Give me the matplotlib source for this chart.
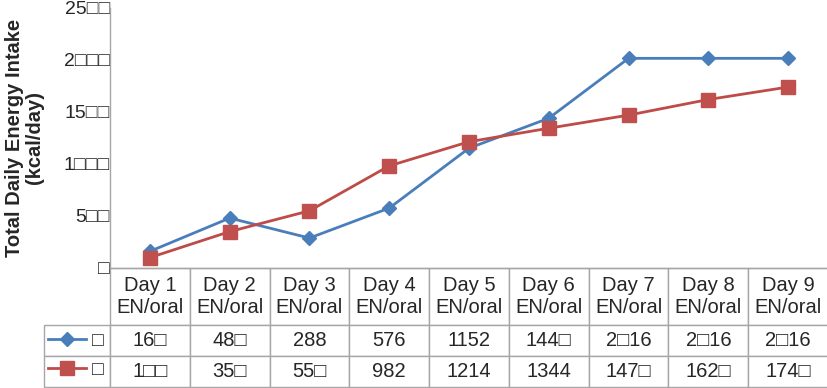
import matplotlib
matplotlib.use("Agg")
import matplotlib.pyplot as plt

plt.rcParams["font.family"] = ["Liberation Sans", "DejaVu Sans"]

# data (zeros render as tofu boxes in the source)
days = ["Day 1", "Day 2", "Day 3", "Day 4", "Day 5", "Day 6", "Day 7", "Day 8", "Day 9"]
series_blue = [160, 480, 288, 576, 1152, 1440, 2016, 2016, 2016]
series_red = [100, 350, 550, 982, 1214, 1344, 1470, 1620, 1740]
y_ticks = [0, 500, 1000, 1500, 2000, 2500]
series_names = ["\u25a1", "\u25a1"]

BLUE = "#4A7EBB"
RED = "#BE4B48"
GRID = "#A6A6A6"
TXT = "#262626"


def tofu(v):
    # source font lacked the zero glyph
    return str(v).replace("0", "\u25a1")


fig = plt.figure(figsize=(8.28, 3.88), dpi=100)
W, H = 828, 388
ax = fig.add_axes([110 / W, 1 - 268 / H, 718 / W, 260 / H])

x = list(range(len(days)))
ax.plot(x, series_blue, color=BLUE, lw=2.0, marker="D", ms=7.5,
        markerfacecolor=BLUE, markeredgecolor=BLUE, label=series_names[0])
ax.plot(x, series_red, color=RED, lw=2.0, marker="s", ms=9.5,
        markerfacecolor="#C0504D", markeredgecolor="#C0504D", label=series_names[1])

ax.set_xlim(-0.5, len(days) - 0.5)
ax.set_ylim(0, 2500)
ax.set_yticks(y_ticks)
ax.set_yticklabels([tofu(v) for v in y_ticks], fontsize=14, color=TXT)
ax.tick_params(axis="y", length=0, pad=0)
ax.set_xticks([])
for s in ["top", "right"]:
    ax.spines[s].set_visible(False)
for s in ["left", "bottom"]:
    ax.spines[s].set_color(GRID)
    ax.spines[s].set_linewidth(1.0)

ax.set_ylabel("Total Daily Energy Intake\n(kcal/day)", fontsize=14.5,
              fontweight="bold", color=TXT, linespacing=1.05)
ax.yaxis.set_label_coords(-66 / 718, 0.5)

# data table under the plot
cell_text = [[""] + [d + "\nEN/oral" for d in days],
             [""] + [tofu(v) for v in series_blue],
             [""] + [tofu(v) for v in series_red]]
label_w = 66 / 718
col_w = 1.0 / len(days)
tbl = ax.table(cellText=cell_text, cellLoc="center",
               colWidths=[label_w] + [col_w] * len(days),
               bbox=[-label_w, -119 / 260, 1 + label_w, 119 / 260])
tbl.auto_set_font_size(False)
tbl.set_fontsize(14.5)
row_h = [57, 31, 31]
for (r, c), cell in tbl.get_celld().items():
    cell.set_height(row_h[r])
    cell.set_edgecolor(GRID)
    cell.set_linewidth(1.0)
    cell.get_text().set_color(TXT)
    cell.get_text().set_linespacing(1.15)
tbl[(0, 0)].visible_edges = ""

# legend sits in the row-label column of the table
ax.legend(loc="center left", bbox_to_anchor=(48 / W, 1 - 355.5 / H),
          bbox_transform=fig.transFigure, frameon=False, fontsize=14,
          handlelength=1.95, handletextpad=0.3, labelspacing=0.58,
          borderpad=0, borderaxespad=0, labelcolor=TXT)

fig.savefig("out.png", dpi=100)
